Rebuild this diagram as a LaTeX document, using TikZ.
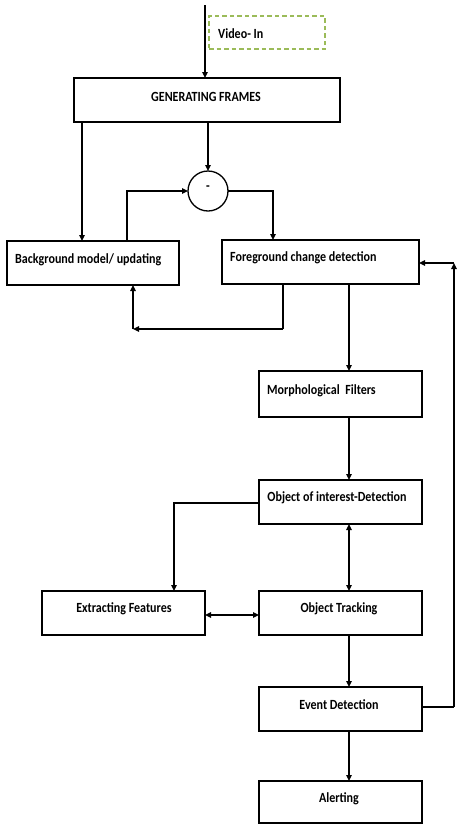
\documentclass[tikz,border=0pt]{standalone}
\usepackage{fontspec}
\setmainfont[FakeStretch=0.86,BoldFont={Carlito Bold}]{Carlito}
\usetikzlibrary{arrows.meta,calc}
\definecolor{dashgreen}{HTML}{9BBB59}
\begin{document}
\begin{tikzpicture}[x=1pt,y=-1pt,
  txt/.style={font=\bfseries\fontsize{14}{16}\selectfont,inner sep=0pt},
  box/.style={draw=black,line width=1.4pt,rectangle,inner sep=0pt,outer sep=0pt,
    minimum height=44pt,font=\bfseries\fontsize{14}{16}\selectfont},
  arr/.style={line width=1.3pt,-{Triangle[length=6pt,width=5.5pt]}},
  darr/.style={line width=1.3pt,{Triangle[length=6pt,width=5.5pt]}-{Triangle[length=6pt,width=5.5pt]}},
  ln/.style={line width=1.3pt}]
\useasboundingbox (0,0) rectangle (456,825);
% nodes
\node[draw=dashgreen,line width=1.4pt,dash pattern=on 4.5pt off 3pt,minimum width=116pt,minimum height=33pt,
  inner sep=0pt,outer sep=0pt] (VI) at (267,32.5) {};
\node[txt,anchor=west] (VIt) at (218,34) {Video- In};
\node[box,minimum width=266pt] (GF) at (207,100) {};
\node[txt] (GFt) at (206,97) {GENERATING FRAMES};
\node[draw=black,line width=1.3pt,circle,minimum size=40pt,inner sep=0pt,outer sep=0pt] (SUB) at (208,191) {};
\node[txt] (SUBt) at (208,188) {-};
\node[box,minimum width=172pt] (BG) at (93,263) {};
\node[txt,anchor=west] (BGt) at (15,260) {Background model/ updating};
\node[box,minimum width=197pt] (FG) at (320.5,262) {};
\node[txt,anchor=west] (FGt) at (230,258) {Foreground change detection};
\node[box,minimum width=163pt,minimum height=46pt] (MF) at (340.5,394) {};
\node[txt,anchor=west] (MFt) at (267,391) {Morphological\ \ Filters};
\node[box,minimum width=163pt] (OD) at (340.5,502) {};
\node[txt] (ODt) at (337,498) {Object of interest-Detection};
\node[box,minimum width=163pt] (EF) at (123.5,613) {};
\node[txt] (EFt) at (124,609) {Extracting Features};
\node[box,minimum width=163pt] (OT) at (340.5,613) {};
\node[txt] (OTt) at (339,609) {Object Tracking};
\node[box,minimum width=163pt] (ED) at (340.5,709) {};
\node[txt] (EDt) at (339,705) {Event Detection};
\node[box,minimum width=163pt,minimum height=42pt] (AL) at (340.5,802) {};
\node[txt] (ALt) at (339,799) {Alerting};
% helper coordinates
\coordinate (in) at (205,5);
\coordinate (c1) at (82,0);
\coordinate (c2) at (127,0);
\coordinate (c3) at (273,0);
\coordinate (k1) at (283,329);
\coordinate (k2) at (133,329);
\coordinate (c6) at (349,0);
\coordinate (k3) at (174,503);
\coordinate (y615) at (0,615);
\coordinate (k4) at (454,707);
\coordinate (k5) at (454,263);
% connectors
\draw[arr] (in) -- (in |- GF.north);
\draw[arr] (c1 |- GF.south) -- (c1 |- BG.north);
\draw[arr] (SUB.north |- GF.south) -- (SUB.north);
\draw[arr] (c2 |- BG.north) |- (SUB.west);
\draw[arr] (SUB.east) -| (c3 |- FG.north);
\draw[ln] (k1 |- FG.south) -- (k1);
\draw[arr] (k1) -- (k2);
\draw[arr] (k2) -- (k2 |- BG.south);
\draw[arr] (c6 |- FG.south) -- (c6 |- MF.north);
\draw[arr] (c6 |- MF.south) -- (c6 |- OD.north);
\draw[arr] (OD.west |- k3) -| (EF.north -| k3);
\draw[darr] (c6 |- OD.south) -- (c6 |- OT.north);
\draw[darr] (EF.east |- y615) -- (OT.west |- y615);
\draw[arr] (c6 |- OT.south) -- (c6 |- ED.north);
\draw[arr] (c6 |- ED.south) -- (c6 |- AL.north);
\draw[ln] (ED.east |- k4) -- (k4);
\draw[arr] (k4) -- (k5);
\draw[arr] (k5) -- (FG.east |- k5);
\end{tikzpicture}
\end{document}
